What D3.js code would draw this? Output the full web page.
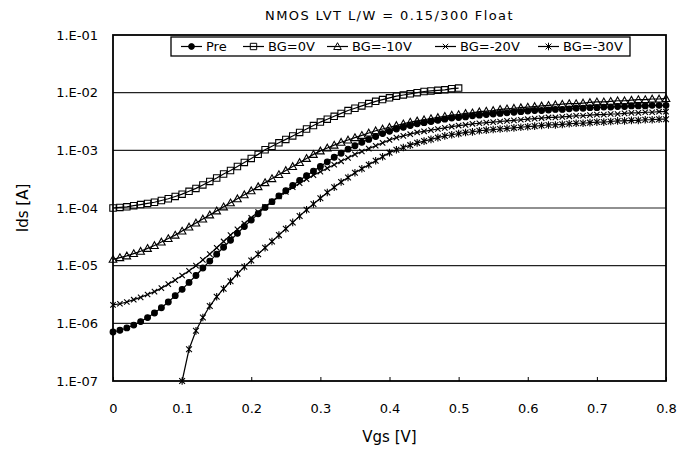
<html>
<head>
<style>
  body { margin: 0; background: #fff; }
  svg { font-family: "DejaVu Sans", sans-serif; }
</style>
<script src="https://cdn.jsdelivr.net/npm/d3@7"></script>
</head>
<body>
<svg id="chart"></svg>
<script>
// Gate voltage sweep [V]
const vgs = [0.00, 0.01, 0.02, 0.03, 0.04, 0.05, 0.06, 0.07, 0.08, 0.09,
  0.10, 0.11, 0.12, 0.13, 0.14, 0.15, 0.16, 0.17, 0.18, 0.19,
  0.20, 0.21, 0.22, 0.23, 0.24, 0.25, 0.26, 0.27, 0.28, 0.29,
  0.30, 0.31, 0.32, 0.33, 0.34, 0.35, 0.36, 0.37, 0.38, 0.39,
  0.40, 0.41, 0.42, 0.43, 0.44, 0.45, 0.46, 0.47, 0.48, 0.49,
  0.50, 0.51, 0.52, 0.53, 0.54, 0.55, 0.56, 0.57, 0.58, 0.59,
  0.60, 0.61, 0.62, 0.63, 0.64, 0.65, 0.66, 0.67, 0.68, 0.69,
  0.70, 0.71, 0.72, 0.73, 0.74, 0.75, 0.76, 0.77, 0.78, 0.79, 0.80];

// log10(Ids [A]), one per vgs step
const preLog = [-6.15, -6.12, -6.08, -6.03, -5.97, -5.90, -5.82, -5.73, -5.63, -5.52,
  -5.41, -5.29, -5.17, -5.04, -4.92, -4.80, -4.68, -4.56, -4.44, -4.32,
  -4.21, -4.10, -3.99, -3.89, -3.79, -3.70, -3.61, -3.52, -3.44, -3.36,
  -3.28, -3.20, -3.12, -3.05, -2.98, -2.92, -2.86, -2.81, -2.76, -2.71,
  -2.67, -2.63, -2.60, -2.57, -2.54, -2.52, -2.50, -2.48, -2.46, -2.44,
  -2.43, -2.42, -2.40, -2.39, -2.38, -2.37, -2.36, -2.35, -2.34, -2.33,
  -2.32, -2.31, -2.31, -2.30, -2.29, -2.29, -2.28, -2.27, -2.27, -2.26,
  -2.26, -2.25, -2.25, -2.24, -2.24, -2.23, -2.23, -2.23, -2.22, -2.22, -2.22];

// BG=0V stops at 0.50 V (compliance)
const bg0Log = [-4.00, -3.99, -3.98, -3.96, -3.94, -3.92, -3.90, -3.87, -3.84, -3.80,
  -3.76, -3.71, -3.66, -3.60, -3.54, -3.48, -3.41, -3.35, -3.28, -3.21,
  -3.14, -3.07, -2.99, -2.93, -2.87, -2.81, -2.75, -2.69, -2.63, -2.57,
  -2.51, -2.46, -2.41, -2.36, -2.31, -2.27, -2.23, -2.19, -2.15, -2.12,
  -2.09, -2.06, -2.04, -2.02, -2.00, -1.98, -1.97, -1.96, -1.95, -1.93, -1.92];

const bg10Log = [-4.89, -4.86, -4.83, -4.79, -4.75, -4.70, -4.65, -4.59, -4.53, -4.47,
  -4.40, -4.33, -4.26, -4.19, -4.12, -4.05, -3.98, -3.91, -3.84, -3.77,
  -3.70, -3.63, -3.56, -3.49, -3.42, -3.35, -3.28, -3.21, -3.14, -3.07,
  -3.01, -2.96, -2.91, -2.86, -2.82, -2.78, -2.74, -2.70, -2.66, -2.63,
  -2.60, -2.57, -2.54, -2.51, -2.49, -2.47, -2.45, -2.43, -2.41, -2.39,
  -2.38, -2.36, -2.35, -2.33, -2.32, -2.31, -2.29, -2.28, -2.27, -2.26,
  -2.25, -2.24, -2.23, -2.22, -2.21, -2.20, -2.19, -2.19, -2.18, -2.17,
  -2.16, -2.16, -2.15, -2.14, -2.14, -2.13, -2.12, -2.12, -2.11, -2.11, -2.10];

const bg20Log = [-5.68, -5.66, -5.63, -5.59, -5.55, -5.50, -5.45, -5.39, -5.32, -5.25,
  -5.17, -5.09, -5.00, -4.90, -4.80, -4.69, -4.58, -4.47, -4.37, -4.27,
  -4.17, -4.07, -3.98, -3.89, -3.80, -3.72, -3.64, -3.57, -3.50, -3.43,
  -3.37, -3.31, -3.25, -3.19, -3.13, -3.07, -3.02, -2.97, -2.92, -2.87,
  -2.82, -2.78, -2.75, -2.72, -2.69, -2.67, -2.65, -2.63, -2.61, -2.59,
  -2.57, -2.56, -2.54, -2.53, -2.52, -2.51, -2.50, -2.49, -2.48, -2.47,
  -2.46, -2.45, -2.44, -2.43, -2.43, -2.42, -2.41, -2.40, -2.40, -2.39,
  -2.38, -2.38, -2.37, -2.37, -2.36, -2.35, -2.35, -2.34, -2.34, -2.33, -2.33];

// BG=-30V is below 1E-07 until 0.10 V, so it starts there
const bg30Log = [-7.00, -6.45, -6.13, -5.90, -5.70, -5.54, -5.40, -5.27, -5.14, -5.02,
  -4.91, -4.80, -4.69, -4.58, -4.47, -4.36, -4.25, -4.14, -4.03, -3.93,
  -3.83, -3.73, -3.64, -3.55, -3.47, -3.39, -3.32, -3.25, -3.18, -3.11,
  -3.04, -2.99, -2.95, -2.91, -2.87, -2.84, -2.81, -2.78, -2.75, -2.73,
  -2.71, -2.69, -2.68, -2.66, -2.65, -2.64, -2.63, -2.62, -2.61, -2.60,
  -2.59, -2.58, -2.57, -2.56, -2.56, -2.55, -2.54, -2.53, -2.53, -2.52,
  -2.51, -2.51, -2.50, -2.49, -2.49, -2.48, -2.48, -2.47, -2.47, -2.46, -2.46];

const seriesNames = ["Pre", "BG=0V", "BG=-10V", "BG=-20V", "BG=-30V"];
const xTicks = [0, 0.1, 0.2, 0.3, 0.4, 0.5, 0.6, 0.7, 0.8];
const xTickLabels = ["0", "0.1", "0.2", "0.3", "0.4", "0.5", "0.6", "0.7", "0.8"];
const yTicks = [1e-7, 1e-6, 1e-5, 1e-4, 1e-3, 1e-2, 1e-1];
const yTickLabels = ["1.E-07", "1.E-06", "1.E-05", "1.E-04", "1.E-03", "1.E-02", "1.E-01"];

const markers = {
  circle: d3.symbol(d3.symbolCircle, 26)(),
  square: "M-3.2,-3.2h6.4v6.4h-6.4z",
  triangle: "M0,-3.8L3.8,3L-3.8,3Z",
  cross: "M-2.7,-2.7L2.7,2.7M-2.7,2.7L2.7,-2.7",
  star: "M-2.9,-2.9L2.9,2.9M-2.9,2.9L2.9,-2.9M0,-3.8V3.8"
};

function buildSeries() {
  let toPoints = (xs, logs) => logs.map((l, i) => ({ x: xs[i], y: Math.pow(10, l) }));
  return [
    { name: seriesNames[0], marker: "circle", filled: true, points: toPoints(vgs, preLog) },
    { name: seriesNames[1], marker: "square", filled: false, points: toPoints(vgs, bg0Log) },
    { name: seriesNames[2], marker: "triangle", filled: false, points: toPoints(vgs, bg10Log) },
    { name: seriesNames[3], marker: "cross", filled: false, points: toPoints(vgs, bg20Log) },
    { name: seriesNames[4], marker: "star", filled: false, points: toPoints(vgs.slice(10), bg30Log) }
  ];
}

function getConfig() {
  let width = 694;
  let height = 451;
  let plot = { left: 113, right: 666, top: 35, bottom: 381 };
  let container = d3.select("#chart").attr("width", width).attr("height", height);
  return { width, height, plot, container };
}

function getScales(config) {
  let { plot } = config;
  let xScale = d3.scaleLinear().domain([0, 0.8]).range([plot.left, plot.right]);
  let yScale = d3.scaleLog().domain([1e-7, 1e-1]).range([plot.bottom, plot.top]);
  return { xScale, yScale };
}

function drawGridAndAxes(scales, config) {
  let { xScale, yScale } = scales;
  let { container, plot } = config;

  // horizontal gridlines at each decade
  container.append("g")
    .selectAll("line")
    .data(yTicks.slice(1, -1))
    .enter()
    .append("line")
    .attr("x1", plot.left)
    .attr("x2", plot.right)
    .attr("y1", (d) => yScale(d))
    .attr("y2", (d) => yScale(d))
    .attr("stroke", "#222")
    .attr("stroke-width", 1.2);

  let axisX = d3.axisBottom(xScale)
    .tickValues(xTicks)
    .tickSize(-4)
    .tickPadding(23)
    .tickFormat((d, i) => xTickLabels[i]);
  let gx = container.append("g")
    .attr("transform", `translate(0,${plot.bottom})`)
    .call(axisX);
  gx.select(".domain").remove();
  gx.selectAll("line").attr("stroke", "#000");
  gx.selectAll("text").attr("font-size", 13).attr("font-family", "DejaVu Sans").attr("fill", "#000");

  let axisY = d3.axisLeft(yScale)
    .tickValues(yTicks)
    .tickSize(0)
    .tickPadding(15)
    .tickFormat((d, i) => yTickLabels[i]);
  let gy = container.append("g")
    .attr("transform", `translate(${plot.left},0)`)
    .call(axisY);
  gy.select(".domain").remove();
  gy.selectAll("text").attr("font-size", 13).attr("font-family", "DejaVu Sans").attr("fill", "#000");

  // plot frame
  container.append("rect")
    .attr("x", plot.left)
    .attr("y", plot.top)
    .attr("width", plot.right - plot.left)
    .attr("height", plot.bottom - plot.top)
    .attr("fill", "none")
    .attr("stroke", "#000")
    .attr("stroke-width", 1.8);
}

function drawSeries(series, scales, config) {
  let { xScale, yScale } = scales;
  let { container } = config;
  let line = d3.line().x((d) => xScale(d.x)).y((d) => yScale(d.y));

  let groups = container.append("g")
    .selectAll("g")
    .data(series)
    .enter()
    .append("g");

  groups.append("path")
    .attr("d", (s) => line(s.points))
    .attr("fill", "none")
    .attr("stroke", "#000")
    .attr("stroke-width", 1.2);

  groups.each(function (s) {
    d3.select(this)
      .selectAll(".mark")
      .data(s.points)
      .enter()
      .append("path")
      .attr("class", "mark")
      .attr("transform", (d) => `translate(${xScale(d.x)},${yScale(d.y)})`)
      .attr("d", markers[s.marker])
      .attr("fill", s.filled ? "#000" : "none")
      .attr("stroke", "#000")
      .attr("stroke-width", 1.1);
  });
}

function drawLegend(series, config) {
  let { container } = config;
  let box = { x: 171, y: 37, w: 459, h: 19 };
  // left edge of each legend label
  let textX = [206, 268, 352, 460, 563];
  let g = container.append("g");
  g.append("rect")
    .attr("x", box.x)
    .attr("y", box.y)
    .attr("width", box.w)
    .attr("height", box.h)
    .attr("fill", "#fff")
    .attr("stroke", "#000")
    .attr("stroke-width", 1.3);

  let cy = box.y + box.h / 2;
  series.forEach((s, i) => {
    let x1 = textX[i] - 25;
    let x2 = textX[i] - 4;
    g.append("line")
      .attr("x1", x1).attr("x2", x2)
      .attr("y1", cy).attr("y2", cy)
      .attr("stroke", "#000")
      .attr("stroke-width", 1.2);
    g.append("path")
      .attr("transform", `translate(${(x1 + x2) / 2},${cy})`)
      .attr("d", markers[s.marker])
      .attr("fill", s.filled ? "#000" : "none")
      .attr("stroke", "#000");
    g.append("text")
      .attr("x", textX[i])
      .attr("y", cy + 4.5)
      .attr("font-size", 13)
      .text(s.name);
  });
}

function drawTitles(config) {
  let { container, plot } = config;
  let mid = (plot.left + plot.right) / 2;
  container.append("text")
    .attr("x", mid).attr("y", 20)
    .attr("text-anchor", "middle")
    .attr("font-size", 13)
    .attr("letter-spacing", 1.4)
    .text("NMOS LVT L/W = 0.15/300 Float");
  container.append("text")
    .attr("x", mid).attr("y", 442)
    .attr("text-anchor", "middle")
    .attr("font-size", 15)
    .text("Vgs [V]");
  container.append("text")
    .attr("transform", `translate(28,${(plot.top + plot.bottom) / 2}) rotate(-90)`)
    .attr("text-anchor", "middle")
    .attr("font-size", 15)
    .text("Ids [A]");
}

function showChart() {
  let config = getConfig();
  let scales = getScales(config);
  let series = buildSeries();
  drawGridAndAxes(scales, config);
  drawSeries(series, scales, config);
  drawLegend(series, config);
  drawTitles(config);
}

showChart();
</script>
</body>
</html>
